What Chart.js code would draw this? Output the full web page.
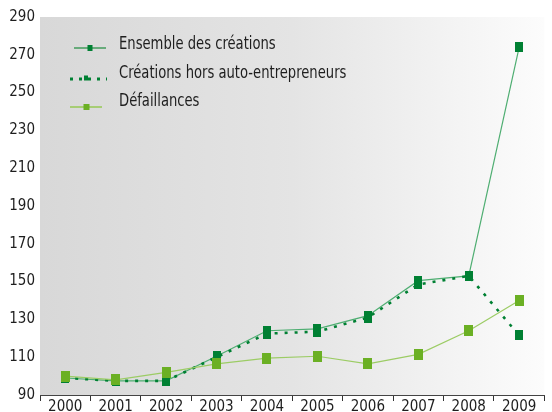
<!DOCTYPE html>
<html><head><meta charset="utf-8">
<script src="https://cdn.jsdelivr.net/npm/chart.js@4/dist/chart.umd.min.js"></script>
<style>html,body{margin:0;padding:0;background:#fff}#wrap{position:relative;width:552px;height:412px}</style>
</head><body><div id="wrap"><canvas id="c" width="552" height="412" style="width:552px;height:412px"></canvas></div>
<script>
const years = ['2000','2001','2002','2003','2004','2005','2006','2007','2008','2009'];
const ensemble = [99, 97.5, 97.5, 110.5, 124, 125, 132, 150.5, 153, 274];
const horsAuto = [99, 97.5, 97.5, 110, 122.5, 123.5, 131, 148.5, 153, 121.5];
const defaillances = [100, 98, 102, 106.5, 109.5, 110.5, 106.5, 111.5, 124, 140];
const yTicks = [90, 110, 130, 150, 170, 190, 210, 230, 250, 270, 290];
const seriesLabels = ['Ensemble des créations', 'Créations hors auto-entrepreneurs', 'Défaillances'];

const FONT = "'Liberation Sans Narrow', 'DejaVu Sans Condensed', 'Liberation Sans', Arial, sans-serif";
const DARK = '#008033';
const LIGHT = '#6bb024';

function rectImg(w, h, color) {
  const c = document.createElement('canvas');
  c.width = w; c.height = h;
  const g = c.getContext('2d');
  g.fillStyle = color; g.fillRect(0, 0, w, h);
  return c;
}
const darkMark = rectImg(8, 10, DARK);
const lightMark = rectImg(9, 11, LIGHT);

const bgPlugin = {
  id: 'bg',
  beforeDraw(chart) {
    const {ctx, chartArea: a} = chart;
    ctx.save();
    ctx.fillStyle = '#fff';
    ctx.fillRect(0, 0, chart.width, chart.height);
    const g = ctx.createLinearGradient(a.left, 0, a.right, 0);
    g.addColorStop(0, '#d8d8d8');
    g.addColorStop(0.5, '#e4e4e4');
    g.addColorStop(1, '#fcfcfc');
    ctx.fillStyle = g;
    ctx.fillRect(a.left, a.top, a.right - a.left, a.bottom - a.top);
    ctx.restore();
  }
};

function scaledText(ctx, text, x, y) {
  ctx.save();
  ctx.translate(x, y);
  ctx.scale(0.86, 1);
  ctx.fillText(text, 0, 0);
  ctx.restore();
}

const legendPlugin = {
  id: 'customLegend',
  afterDraw(chart) {
    const ctx = chart.ctx;
    ctx.save();
    ctx.font = '17px ' + FONT;
    ctx.textBaseline = 'middle';
    ctx.textAlign = 'left';
    // row 1
    ctx.strokeStyle = '#2a9148'; ctx.lineWidth = 1.3;
    ctx.beginPath(); ctx.moveTo(74, 48); ctx.lineTo(106, 48); ctx.stroke();
    ctx.fillStyle = DARK; ctx.fillRect(87.5, 45, 5, 6);
    ctx.fillStyle = '#1e1e1e';
    scaledText(ctx, seriesLabels[0], 119, 45);
    // row 2
    ctx.strokeStyle = DARK; ctx.lineWidth = 3; ctx.setLineDash([3, 6]);
    ctx.beginPath(); ctx.moveTo(70, 79); ctx.lineTo(107, 79); ctx.stroke();
    ctx.setLineDash([]);
    ctx.fillStyle = DARK; ctx.fillRect(84, 75.5, 4, 5);
    ctx.fillStyle = '#1e1e1e';
    scaledText(ctx, seriesLabels[1], 119, 74);
    // row 3
    ctx.strokeStyle = '#8cc63f'; ctx.lineWidth = 1.3;
    ctx.beginPath(); ctx.moveTo(70, 107); ctx.lineTo(102, 107); ctx.stroke();
    ctx.fillStyle = LIGHT; ctx.fillRect(83.5, 104, 6, 6);
    ctx.fillStyle = '#1e1e1e';
    scaledText(ctx, seriesLabels[2], 119, 102);
    ctx.restore();
  }
};

new Chart(document.getElementById('c'), {
  type: 'line',
  data: {
    labels: years,
    datasets: [
      {
        label: seriesLabels[0], data: ensemble, order: 2,
        borderColor: '#4fae72', borderWidth: 1.2, tension: 0,
        pointStyle: darkMark, pointRadius: 5, pointHoverRadius: 5
      },
      {
        label: seriesLabels[1], data: horsAuto, order: 1,
        borderColor: DARK, borderWidth: 2.6, borderDash: [3, 7], tension: 0,
        pointStyle: darkMark, pointRadius: 5, pointHoverRadius: 5
      },
      {
        label: seriesLabels[2], data: defaillances, order: 0,
        borderColor: '#9ccc65', borderWidth: 1.2, tension: 0,
        pointStyle: lightMark, pointRadius: 5, pointHoverRadius: 5
      }
    ]
  },
  options: {
    responsive: false,
    animation: false,
    devicePixelRatio: 1,
    layout: { padding: { top: 17, right: 0, left: 0, bottom: 0 } },
    plugins: { legend: { display: false }, tooltip: { enabled: false } },
    scales: {
      x: {
        offset: true,
        grid: { display: true, drawOnChartArea: false, drawTicks: true, tickLength: 6, offset: true, color: '#333', lineWidth: 1 },
        border: { display: true, color: '#444', width: 1 },
        ticks: { color: '#1e1e1e', font: { family: FONT, size: 15, lineHeight: 1 }, padding: -1, maxRotation: 0, autoSkip: false },
        afterFit(s) { s.height = 17; }
      },
      y: {
        min: 90, max: 290,
        afterBuildTicks(s) { s.ticks = yTicks.map(v => ({ value: v })); },
        grid: { display: false, drawTicks: false },
        border: { display: false },
        ticks: { color: '#1e1e1e', font: { family: FONT, size: 15 }, padding: 5 },
        afterFit(s) { s.width = 40; }
      }
    }
  },
  plugins: [bgPlugin, legendPlugin]
});
</script>
</body></html>
